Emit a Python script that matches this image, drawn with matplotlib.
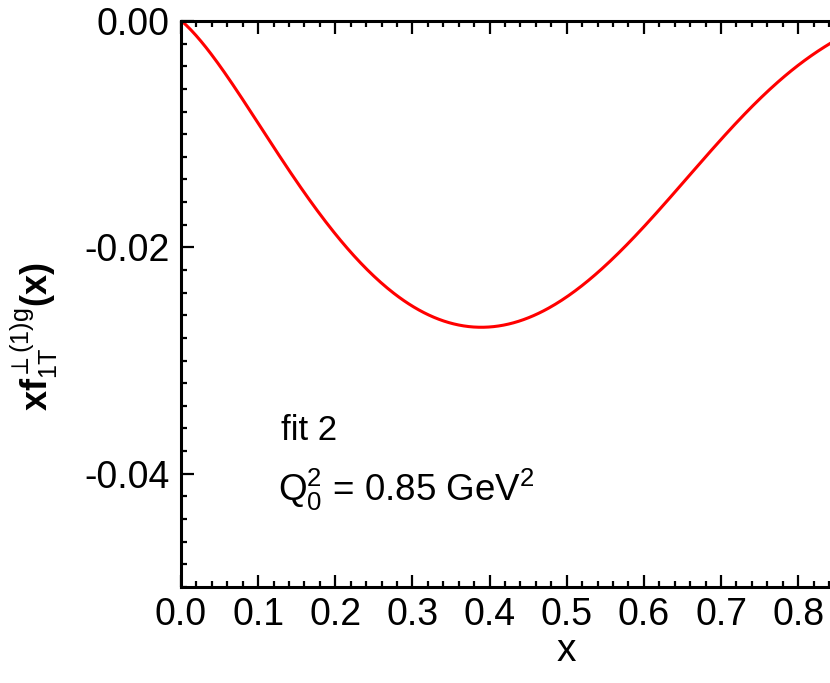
import matplotlib
matplotlib.use('Agg')
import matplotlib.pyplot as plt
import numpy as np
from numpy.polynomial import polynomial as P
from matplotlib.ticker import MultipleLocator, FormatStrFormatter

# values
xvals=[0.0,0.0354,0.0613,0.083,0.1046,0.126,0.152,0.178,0.208,0.238,0.258,0.277,
       0.301,0.344,0.3876,0.4306,0.4738,0.517,0.543,0.5603,0.5863,0.6296,0.6727,
       0.7159,0.7592,0.8023,0.8412,0.86]
yvals=[0.0,-0.00254,-0.0049,-0.00726,-0.00962,-0.0120,-0.01434,-0.0167,-0.01935,
       -0.0220,-0.0229,-0.0241,-0.02526,-0.0266,-0.0270,-0.02673,-0.02555,-0.0235,
       -0.0220,-0.02083,-0.01935,-0.01581,-0.01257,-0.00933,-0.00637,-0.00372,
       -0.00195,-0.0013]

fit_label='fit 2'
scale_label=r'Q$_0^2$ = 0.85 GeV$^2$'

plt.rcParams['font.family']='Liberation Sans'
plt.rcParams['mathtext.fontset']='custom'
plt.rcParams['mathtext.rm']='Liberation Sans'
plt.rcParams['mathtext.it']='Liberation Sans'
plt.rcParams['mathtext.bf']='Liberation Sans:bold'
plt.rcParams['axes.unicode_minus']=False

fig=plt.figure(figsize=(8.3,6.83),dpi=100)
ax=fig.add_axes([181/830,0.1406,771.5/830,0.8287])

# smooth curve through the read points
xs=np.array(xvals)
ys=np.array(yvals)
xf=np.linspace(0,0.86,400)
coef=P.polyfit(xs,ys,7)
yf=P.polyval(xf,coef)
yf[0]=0.0
ax.plot(xf,yf,color='red',lw=2.2)

ax.set_xlim(0,1.0)
ax.set_ylim(-0.05,0.0)
ax.xaxis.set_major_locator(MultipleLocator(0.1))
ax.xaxis.set_minor_locator(MultipleLocator(0.02))
ax.yaxis.set_major_locator(MultipleLocator(0.02))
ax.yaxis.set_minor_locator(MultipleLocator(0.002))
ax.xaxis.set_major_formatter(FormatStrFormatter('%.1f'))
ax.yaxis.set_major_formatter(FormatStrFormatter('%.2f'))

for s in ax.spines.values():
    s.set_linewidth(2.2)
ax.tick_params(which='both',direction='in',top=True,right=False,width=1.6,labelsize=27)
ax.tick_params(which='major',length=9)
ax.tick_params(which='minor',length=4.5)
ax.tick_params(axis='y',pad=8)
ax.tick_params(axis='x',pad=7)

ax.set_xlabel('x',fontsize=28,labelpad=0)
ax.set_ylabel(r'$\mathbf{xf}_{\rm 1T}^{\perp(1){\rm g}}\mathbf{(x)}$',fontsize=26)
ax.yaxis.set_label_coords(-0.157,0.443)

ax.text(0.13,0.277,fit_label,transform=ax.transAxes,fontsize=25,va='center')
ax.text(0.126,0.171,scale_label,transform=ax.transAxes,fontsize=26.5,va='center')

plt.savefig('out.png',dpi=100)
